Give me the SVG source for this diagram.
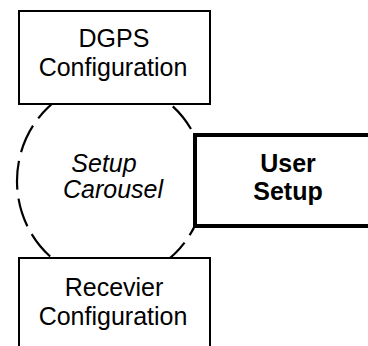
<svg xmlns="http://www.w3.org/2000/svg" width="368" height="346" viewBox="0 0 368 346">
<style>
.box{fill:#fff;stroke:#000;stroke-width:2}
.thick{fill:#fff;stroke:#000;stroke-width:4}
.t{font-family:"Liberation Sans",Arial,Helvetica,sans-serif;font-size:25px;fill:#000;text-anchor:middle}
.i{font-style:italic}
.b{font-weight:bold}
.dash{fill:none;stroke:#000;stroke-width:2.2;stroke-dasharray:29 9}
</style>
<rect width="368" height="346" fill="#fff"/>
<g id="carousel">
<ellipse class="dash" cx="111" cy="181" rx="94" ry="99" stroke-dashoffset="10"/>
<text class="t i" x="104" y="172">Setup</text>
<text class="t i" x="113" y="198">Carousel</text>
</g>
<g id="dgps">
<rect class="box" x="19" y="11" width="191" height="93"/>
<text class="t" x="114" y="47">DGPS</text>
<text class="t" x="113" y="76">Configuration</text>
</g>
<g id="receiver">
<rect class="box" x="19" y="258" width="191" height="100"/>
<text class="t" x="114" y="296">Recevier</text>
<text class="t" x="113" y="325">Configuration</text>
</g>
<g id="user">
<rect class="thick" x="195" y="135" width="185" height="91"/>
<text class="t b" x="288" y="172">User</text>
<text class="t b" x="288" y="200">Setup</text>
</g>
<g id="connectors"></g>
</svg>
